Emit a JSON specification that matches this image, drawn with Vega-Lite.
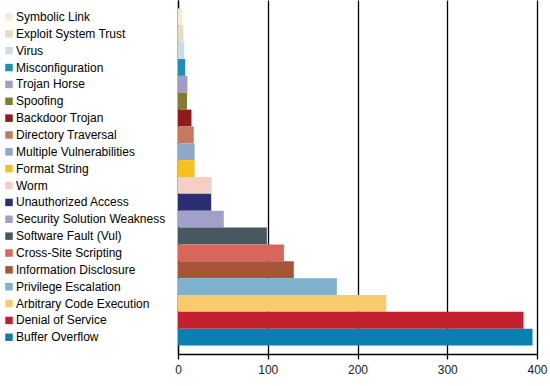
{
  "$schema": "https://vega.github.io/schema/vega-lite/v6.json",
  "width": 359,
  "height": 354,
  "autosize": {"type": "none"},
  "padding": {"left": 178, "top": 0, "right": 13, "bottom": 32},
  "background": "white",
  "config": {
    "view": {"stroke": null},
    "font": "Liberation Sans"
  },
  "data": {
    "values": [
      {"category": "Symbolic Link", "count": 4.5},
      {"category": "Exploit System Trust", "count": 6},
      {"category": "Virus", "count": 7},
      {"category": "Misconfiguration", "count": 8},
      {"category": "Trojan Horse", "count": 10.5},
      {"category": "Spoofing", "count": 10},
      {"category": "Backdoor Trojan", "count": 15},
      {"category": "Directory Traversal", "count": 17.5},
      {"category": "Multiple Vulnerabilities", "count": 18.5},
      {"category": "Format String", "count": 18.5},
      {"category": "Worm", "count": 37.5},
      {"category": "Unauthorized Access", "count": 37},
      {"category": "Security Solution Weakness", "count": 51},
      {"category": "Software Fault (Vul)", "count": 99},
      {"category": "Cross-Site Scripting", "count": 118},
      {"category": "Information Disclosure", "count": 129},
      {"category": "Privilege Escalation", "count": 177},
      {"category": "Arbitrary Code Execution", "count": 232},
      {"category": "Denial of Service", "count": 385},
      {"category": "Buffer Overflow", "count": 395}
    ]
  },
  "mark": {"type": "bar"},
  "encoding": {
    "y": {
      "field": "category",
      "type": "nominal",
      "sort": null,
      "scale": {"paddingInner": 0, "paddingOuter": 0.5},
      "axis": {
        "title": null,
        "labels": false,
        "ticks": false,
        "domain": true,
        "domainColor": "black",
        "domainWidth": 1.3
      }
    },
    "x": {
      "field": "count",
      "type": "quantitative",
      "scale": {"domain": [0, 400], "nice": false},
      "axis": {
        "title": null,
        "values": [0, 100, 200, 300, 400],
        "grid": true,
        "gridColor": "black",
        "gridWidth": 1.3,
        "gridOpacity": 1,
        "domainColor": "black",
        "domainWidth": 1.3,
        "tickColor": "black",
        "tickWidth": 1.3,
        "tickSize": 5,
        "labelFontSize": 12,
        "labelColor": "#222222",
        "labelPadding": 5,
        "labelFlush": false
      }
    },
    "color": {
      "field": "category",
      "type": "nominal",
      "sort": null,
      "scale": {
        "domain": ["Symbolic Link", "Exploit System Trust", "Virus", "Misconfiguration", "Trojan Horse", "Spoofing", "Backdoor Trojan", "Directory Traversal", "Multiple Vulnerabilities", "Format String", "Worm", "Unauthorized Access", "Security Solution Weakness", "Software Fault (Vul)", "Cross-Site Scripting", "Information Disclosure", "Privilege Escalation", "Arbitrary Code Execution", "Denial of Service", "Buffer Overflow"],
        "range": ["#fbe9d6", "#e8dcc0", "#c9dce8", "#1e90b8", "#a09ec8", "#857a30", "#8e1c1e", "#c47a60", "#8fa8c8", "#f5c020", "#f3cfc4", "#2a2e72", "#a0a0c8", "#475860", "#d9665a", "#a85438", "#7eb0d0", "#f9cb6c", "#c42030", "#0a80b0"]
      },
      "legend": {
        "title": null,
        "orient": "none",
        "legendX": -175,
        "legendY": 11,
        "padding": 0,
        "symbolType": "square",
        "symbolSize": 56,
        "symbolStrokeWidth": 0,
        "symbolOpacity": 1,
        "labelFontSize": 12,
        "labelColor": "black",
        "labelOffset": 1,
        "labelLimit": 200,
        "rowPadding": 4.857
      }
    }
  }
}
